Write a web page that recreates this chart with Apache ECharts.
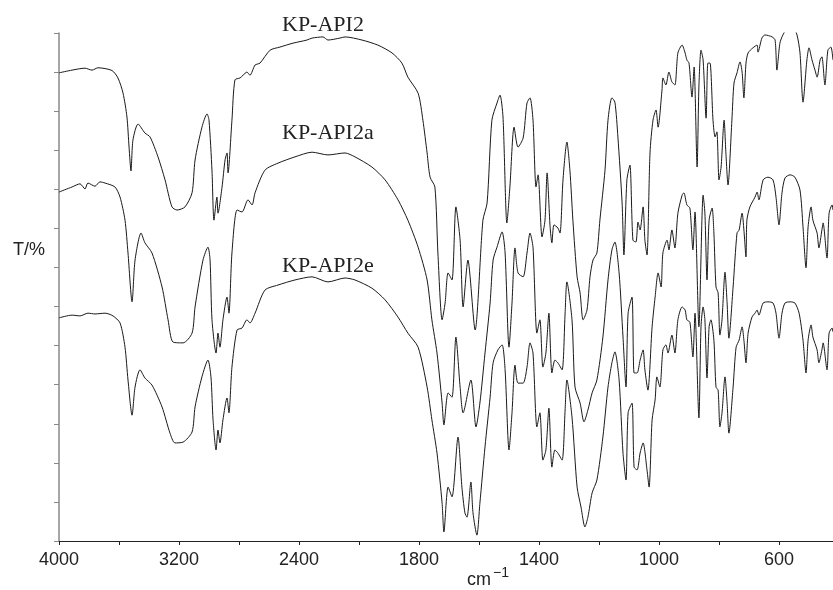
<!DOCTYPE html>
<html>
<head>
<meta charset="utf-8">
<script src="https://cdn.jsdelivr.net/npm/echarts@6/dist/echarts.min.js"></script>
<style>
  html, body { margin: 0; padding: 0; background: #fff; }
  #chart { width: 833px; height: 590px; }
</style>
</head>
<body>
<div id="chart"></div>
<script>
// [wavenumber cm-1, transmittance (arbitrary, offset per trace)]
const api2 = [
  [4000,119.8],[3913,120.5],[3827,121.0],[3780,120.5],[3740,121.1],[3647,120.4],[3607,118.5],[3573,114.6],[3547,108.5],[3533,100.8],
  [3520,94.7],[3507,102.6],[3473,106.7],[3427,104.4],[3393,103.4],[3340,98.3],[3293,92.4],[3247,85.5],[3213,84.7],[3160,85.5],
  [3113,89.1],[3093,97.5],[3047,105.9],[3013,109.3],[3000,107.7],[2980,94.7],[2967,82.1],[2947,88.0],[2940,83.9],[2913,90.6],
  [2893,97.5],[2880,99.3],[2873,94.2],[2847,107.7],[2827,118.0],[2793,118.5],[2773,119.2],[2747,120.0],[2727,119.2],[2693,121.8],
  [2660,122.3],[2593,125.6],[2527,126.4],[2440,127.4],[2347,128.2],[2313,128.7],[2240,129.0],[2207,128.2],[2127,128.7],[2093,129.0],
  [1990,128.2],[1937,126.9],[1890,124.9],[1857,122.3],[1837,118.7],[1803,114.6],[1787,107.7],[1773,99.3],[1763,93.1],[1747,90.6],
  [1737,73.7],[1723,56.6],[1713,60.9],[1703,68.6],[1690,66.8],[1677,85.5],[1663,77.0],[1653,59.9],[1637,71.9],[1613,54.0],
  [1587,82.1],[1573,86.5],[1557,107.7],[1540,112.1],[1530,114.1],[1520,108.5],[1507,81.4],[1497,90.6],[1483,105.9],[1470,100.8],
  [1453,103.1],[1440,112.1],[1430,113.4],[1420,107.7],[1410,90.6],[1403,93.7],[1390,77.8],[1380,82.1],[1373,94.2],[1363,80.4],
  [1357,76.3],[1350,80.9],[1337,80.1],[1330,78.8],[1320,92.4],[1307,102.1],[1297,94.9],[1287,82.1],[1273,67.6],[1263,63.5],
  [1253,56.6],[1240,59.1],[1230,67.6],[1220,71.9],[1207,73.7],[1197,82.1],[1180,94.9],[1170,107.7],[1157,113.4],[1147,112.3],
  [1137,103.4],[1123,86.5],[1117,73.2],[1107,92.4],[1097,96.2],[1087,77.0],[1077,76.5],[1070,81.6],[1063,79.6],[1053,85.5],
  [1047,77.0],[1040,73.2],[1030,99.3],[1020,107.7],[1010,110.3],[1003,105.9],[990,115.4],[987,118.5],[977,116.7],[967,120.0],
  [957,117.5],[947,116.7],[937,124.9],[923,126.9],[913,124.9],[907,123.1],[900,122.3],[890,113.6],[883,121.3],[873,95.7],
  [867,116.2],[860,125.6],[853,123.1],[843,108.2],[837,122.3],[830,122.3],[820,107.7],[813,103.4],[807,104.7],[800,92.4],
  [793,95.7],[783,107.7],[777,99.3],[770,91.1],[757,107.7],[750,117.2],[740,119.8],[730,122.6],[723,120.0],[717,113.4],
  [710,122.3],[703,124.9],[687,126.2],[673,126.9],[670,125.1],[657,128.7],[647,129.5],[623,129.0],[613,128.2],[607,120.5],
  [597,127.4],[587,129.5],[570,131.3],[553,131.3],[540,129.5],[530,124.9],[520,112.3],[507,123.1],[500,126.2],[490,123.1],
  [480,120.5],[473,118.7],[463,123.1],[457,123.9],[447,116.7],[437,125.6],[427,126.4],[420,123.1]
];

const api2a = [
  [4000,89.3],[3913,90.6],[3860,91.4],[3827,90.1],[3807,91.6],[3760,90.8],[3727,91.9],[3693,91.6],[3627,90.6],[3593,88.0],
  [3560,82.1],[3540,73.7],[3513,61.2],[3493,71.9],[3453,78.8],[3427,76.3],[3380,73.7],[3313,65.0],[3273,56.6],[3240,50.9],
  [3173,50.7],[3113,53.2],[3093,59.9],[3040,71.9],[3007,75.2],[2993,71.9],[2980,56.6],[2953,48.1],[2940,53.2],[2927,49.6],
  [2907,56.6],[2880,62.4],[2867,58.3],[2847,73.7],[2813,84.7],[2780,84.2],[2740,87.3],[2713,86.0],[2693,89.1],[2627,94.9],
  [2540,96.7],[2427,98.3],[2313,99.5],[2207,98.8],[2093,99.3],[2027,98.3],[1957,95.7],[1913,92.4],[1870,87.3],[1837,82.1],
  [1803,75.2],[1773,66.8],[1757,56.6],[1740,48.1],[1723,35.3],[1717,29.7],[1703,37.9],[1690,36.8],[1677,52.2],[1663,39.4],
  [1653,32.8],[1627,41.2],[1610,29.2],[1597,35.3],[1580,48.1],[1563,60.9],[1553,71.9],[1540,75.2],[1523,79.1],[1513,73.7],
  [1500,49.6],[1490,60.9],[1480,75.0],[1470,68.6],[1453,67.6],[1440,73.7],[1430,78.8],[1420,75.2],[1407,53.2],[1397,56.6],
  [1387,44.5],[1377,48.1],[1367,58.3],[1357,43.0],[1347,46.3],[1337,45.6],[1323,43.8],[1313,58.3],[1307,66.3],[1290,56.6],
  [1280,39.4],[1263,35.3],[1250,30.5],[1237,33.5],[1223,37.9],[1207,41.2],[1187,52.2],[1170,66.8],[1157,74.5],[1147,76.5],
  [1133,68.6],[1120,52.2],[1110,39.4],[1103,58.3],[1090,62.4],[1083,43.0],[1073,43.0],[1063,46.3],[1053,48.9],[1047,43.8],
  [1037,38.6],[1023,54.8],[1013,62.4],[1003,68.6],[993,65.0],[987,73.7],[973,77.0],[967,74.5],[957,79.6],[947,75.0],
  [937,83.9],[923,88.5],[917,89.1],[907,86.0],[897,85.2],[887,74.5],[880,84.2],[867,54.8],[853,88.5],[847,83.9],
  [840,66.8],[833,82.1],[823,85.2],[817,78.8],[810,65.0],[803,63.5],[797,52.7],[790,56.6],[780,68.8],[773,60.9],
  [767,51.9],[753,65.0],[740,78.8],[733,79.6],[723,83.9],[717,79.6],[710,72.7],[707,82.1],[697,85.5],[680,88.0],
  [673,89.3],[667,87.3],[653,92.4],[637,93.1],[620,92.4],[610,88.0],[600,80.9],[590,89.1],[580,92.9],[563,93.7],
  [547,93.1],[530,89.8],[520,80.4],[510,69.9],[503,80.4],[493,85.5],[487,82.1],[473,78.8],[467,75.0],[457,79.6],
  [453,81.4],[440,72.4],[433,83.9],[423,86.0],[420,84.7]
];

const api2e = [
  [4000,57.1],[3913,57.8],[3860,57.6],[3807,58.3],[3760,58.1],[3693,58.3],[3640,57.6],[3593,55.8],[3560,49.6],[3540,41.2],
  [3513,32.2],[3493,39.4],[3460,43.8],[3427,41.7],[3380,39.9],[3313,34.3],[3260,27.6],[3227,25.1],[3173,25.3],[3113,27.9],
  [3093,34.3],[3047,42.0],[3007,46.3],[2987,42.0],[2973,31.0],[2953,23.3],[2940,28.4],[2927,25.1],[2907,31.0],[2880,36.6],
  [2867,32.8],[2847,44.5],[2813,54.0],[2780,54.5],[2747,56.6],[2727,55.8],[2693,58.3],[2627,64.2],[2540,65.5],[2427,66.8],
  [2313,67.6],[2207,66.3],[2093,67.3],[2027,66.8],[1957,64.7],[1913,61.7],[1870,57.3],[1837,53.2],[1803,49.6],[1773,39.4],
  [1757,31.0],[1740,22.5],[1723,9.7],[1717,2.3],[1703,13.8],[1690,11.3],[1670,26.6],[1657,13.8],[1647,7.2],[1640,6.1],
  [1627,15.1],[1620,7.2],[1607,1.5],[1597,9.7],[1580,24.1],[1563,36.8],[1553,45.6],[1537,48.9],[1523,50.2],[1513,43.8],
  [1500,23.3],[1490,32.8],[1480,45.0],[1470,40.4],[1453,40.4],[1440,44.5],[1430,50.7],[1420,48.1],[1407,29.2],[1397,32.8],
  [1387,20.7],[1377,23.3],[1367,34.0],[1357,18.9],[1347,23.3],[1337,22.5],[1323,20.7],[1313,33.5],[1307,41.2],[1290,31.7],
  [1273,13.8],[1260,8.7],[1247,3.6],[1237,6.1],[1223,12.3],[1207,15.6],[1187,26.6],[1170,39.4],[1157,45.6],[1147,48.4],
  [1133,41.2],[1120,22.5],[1110,15.6],[1103,32.8],[1090,35.3],[1083,18.9],[1073,18.2],[1063,22.5],[1053,25.1],[1040,18.2],
  [1033,13.8],[1023,31.0],[1013,36.1],[1007,42.0],[997,39.4],[987,48.9],[977,50.2],[970,48.1],[957,52.7],[947,48.1],
  [937,56.6],[923,59.9],[913,59.1],[907,56.6],[897,56.0],[887,47.1],[880,58.3],[867,31.5],[860,54.8],[853,59.9],
  [847,56.6],[840,41.7],[833,54.8],[827,56.6],[817,51.4],[810,39.4],[803,38.6],[797,29.2],[790,32.8],[780,42.0],
  [773,35.3],[767,27.6],[753,39.4],[743,49.6],[733,51.4],[723,54.8],[717,51.4],[710,45.6],[703,53.2],[690,57.3],
  [680,58.3],[673,59.1],[667,57.8],[653,60.9],[637,61.2],[620,60.9],[610,58.3],[600,51.9],[590,58.3],[580,60.9],
  [563,61.2],[547,60.9],[533,58.3],[520,51.4],[510,43.0],[503,51.4],[493,55.3],[487,52.2],[473,48.9],[467,45.6],
  [457,48.9],[453,50.7],[440,43.8],[433,53.2],[423,54.5],[420,53.5]
];

const seriesNames = ['KP-API2', 'KP-API2a', 'KP-API2e'];
const tickLabels = [4000, 3200, 2400, 1800, 1400, 1000, 600];

// the x scale doubles below 2000 cm-1 (usual IR chart break)
function toAxis(w) {
  return w >= 2000 ? 4000 - w : 2000 + 2 * (2000 - w);
}
function fromAxis(v) {
  return v <= 2000 ? 4000 - v : 2000 - (v - 2000) / 2;
}

const chart = echarts.init(document.getElementById('chart'));

const lineSeries = [api2, api2a, api2e].map((d, i) => ({
  name: seriesNames[i],
  type: 'line',
  showSymbol: false,
  animation: false,
  smooth: 0.25,
  data: d.map(p => [toAxis(p[0]), p[1]]),
  lineStyle: { color: '#1a1a1a', width: 1 }
}));

chart.setOption({
  animation: false,
  grid: { left: 59, right: 0, top: 33, bottom: 49 },
  xAxis: {
    type: 'value',
    min: 0,
    max: toAxis(420),
    interval: 400,
    splitLine: { show: false },
    axisLine: { lineStyle: { color: '#222', width: 1 } },
    axisTick: { inside: false, length: 4, lineStyle: { color: '#222' } },
    axisLabel: {
      fontSize: 18,
      fontFamily: 'Liberation Sans',
      color: '#222',
      margin: 10,
      showMaxLabel: false,
      formatter: function (v) {
        const w = Math.round(fromAxis(v));
        return tickLabels.indexOf(w) >= 0 ? String(w) : '';
      }
    }
  },
  yAxis: {
    type: 'value',
    min: 0,
    max: 130,
    interval: 10,
    splitLine: { show: false },
    axisLine: { show: true, lineStyle: { color: '#888', width: 1.5 } },
    axisTick: { show: true, inside: false, length: 5, lineStyle: { color: '#888' } },
    axisLabel: { show: false }
  },
  graphic: [
    { type: 'text', left: 282, top: 14, style: { text: seriesNames[0], font: '22px "Liberation Serif"', fill: '#222' } },
    { type: 'text', left: 282, top: 122, style: { text: seriesNames[1], font: '22px "Liberation Serif"', fill: '#222' } },
    { type: 'text', left: 282, top: 255, style: { text: seriesNames[2], font: '22px "Liberation Serif"', fill: '#222' } },
    { type: 'text', left: 13, top: 241, style: { text: 'T/%', font: '18px "Liberation Sans"', fill: '#222' } },
    { type: 'text', left: 467, top: 571, style: { text: 'cm', font: '18px "Liberation Sans"', fill: '#222' } },
    { type: 'text', left: 493, top: 566, style: { text: '\u22121', font: '14px "Liberation Sans"', fill: '#222' } }
  ],
  series: lineSeries
});
</script>
</body>
</html>
